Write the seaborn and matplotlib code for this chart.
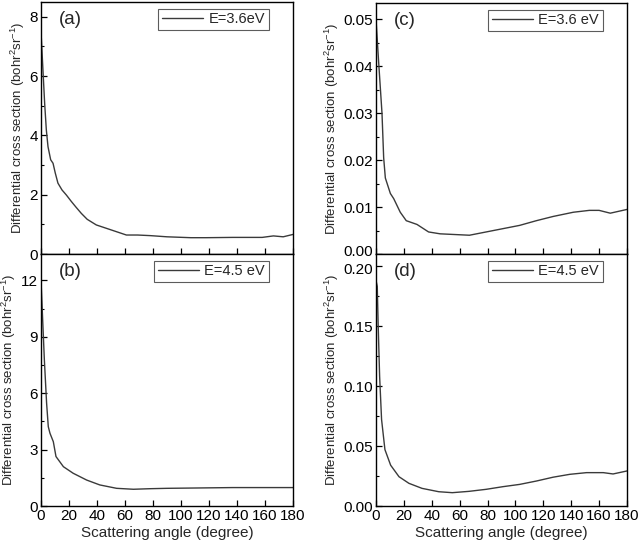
import numpy as np
import pandas as pd
import matplotlib
matplotlib.use("Agg")
import matplotlib.pyplot as plt
import matplotlib.transforms as mtransforms
from matplotlib.ticker import MultipleLocator, FormatStrFormatter
import seaborn as sns

# ---- data ----
angle_a = [0, 1.4, 2.6, 3.8, 5.0, 6.9, 8.6, 10.2, 12.1, 15, 18.1, 21.7, 25, 28.8, 33, 39.5, 49, 61, 69, 78, 90, 107,
           118, 137, 158, 166, 173, 180]
dcs_a = [7.5, 6.2, 5.09, 4.19, 3.62, 3.18, 3.06, 2.73, 2.39, 2.16, 1.99, 1.77, 1.58, 1.37, 1.17, 0.98, 0.83, 0.64, 0.64,
         0.62, 0.58, 0.55, 0.55, 0.56, 0.56, 0.61, 0.58, 0.66]

angle_b = [0, 2.4, 4, 5.2, 6.4, 8.8, 10.7, 16, 23, 32.6, 42, 54, 66, 78, 90, 114, 137, 180]
dcs_b = [12.0, 7.77, 5.47, 4.22, 3.87, 3.42, 2.63, 2.09, 1.74, 1.38, 1.12, 0.94, 0.89, 0.92, 0.94, 0.96, 0.98, 0.98]

angle_c = [0, 1.9, 4.3, 5.5, 6.7, 10.3, 12.7, 17.4, 21.7, 29.4, 37.7, 46, 60, 67, 79, 91, 103, 115, 127, 141.5,
           153, 160, 168, 180]
dcs_c = [0.050, 0.0409, 0.030, 0.0205, 0.0162, 0.0129, 0.0118, 0.0089, 0.0071, 0.0063, 0.0047, 0.0043, 0.0041,
         0.0040, 0.0047, 0.0054, 0.0061, 0.0071, 0.0080, 0.0089, 0.0093, 0.0093, 0.0087, 0.0095]

angle_d = [0, 0.9, 1.6, 2.6, 4.0, 6.4, 10.5, 16.5, 23.6, 33, 45, 54.7, 66.6, 79, 91, 103, 115, 127, 139, 151,
           163, 170, 180]
dcs_d = [0.188, 0.183, 0.149, 0.108, 0.072, 0.047, 0.034, 0.0244, 0.0189, 0.0147, 0.0119, 0.0111, 0.0122,
         0.0139, 0.0161, 0.018, 0.0208, 0.024, 0.0264, 0.0278, 0.0278, 0.0267, 0.0292]

panel_labels = ["(a)", "(b)", "(c)", "(d)"]
legend_labels = ["E=3.6eV", "E=4.5 eV", "E=3.6 eV", "E=4.5 eV"]
x_ticks = [0, 20, 40, 60, 80, 100, 120, 140, 160, 180]

sns.set_theme(style="ticks")
plt.rcParams['font.family'] = ['Liberation Sans', 'DejaVu Sans']
plt.rcParams['mathtext.fontset'] = 'custom'
plt.rcParams['mathtext.rm'] = 'Liberation Sans'
plt.rcParams['mathtext.it'] = 'Liberation Sans:italic'

fig = plt.figure(figsize=(6.4, 5.43), dpi=100)
W, H = 640, 543
def ax_at(x0, x1, ytop, ybot):
    return fig.add_axes([x0 / W, (H - ybot) / H, (x1 - x0) / W, (ybot - ytop) / H])

ax_a = ax_at(41, 293, 2, 254)
ax_b = ax_at(41, 293, 254, 506)
ax_c = ax_at(376, 627, 3, 254)
ax_d = ax_at(376, 627, 254, 506)

sets = [
    (ax_a, angle_a, dcs_a, 8.5, 2, 1, "%d"),
    (ax_b, angle_b, dcs_b, 13.4, 3, 1.5, "%d"),
    (ax_c, angle_c, dcs_c, 0.0535, 0.01, 0.005, "%.2f"),
    (ax_d, angle_d, dcs_d, 0.21, 0.05, 0.025, "%.2f"),
]

line_color = "#3a3a3a"
for i, (ax, xs, ys, ymax, major, minor, fmt) in enumerate(sets):
    df = pd.DataFrame({"angle": xs, "dcs": ys})
    sns.lineplot(data=df, x="angle", y="dcs", ax=ax, color=line_color, linewidth=1.0,
                 label=legend_labels[i])
    ax.set_xlim(0, 180)
    ax.set_ylim(0, ymax)
    ax.set_xticks(x_ticks)
    ax.yaxis.set_major_locator(MultipleLocator(major))
    ax.yaxis.set_minor_locator(MultipleLocator(minor))
    ax.yaxis.set_major_formatter(FormatStrFormatter(fmt))
    ax.tick_params(axis="both", which="both", direction="in", colors="black", labelsize=11, pad=2)
    ax.tick_params(axis="both", which="major", length=4, width=0.9)
    ax.tick_params(axis="y", which="minor", length=2.5, width=0.8)
    for s in ax.spines.values():
        s.set_color("black")
        s.set_linewidth(1.0)
    ax.set_ylabel("Differential cross section (bohr$^2$sr$^{-1}$)", fontsize=9.5, labelpad=2)
    if i in (0, 2):
        ax.set_xlabel("")
        ax.tick_params(axis="x", labelbottom=False)
    else:
        ax.set_xlabel("Scattering angle (degree)", fontsize=11, labelpad=2)
    ax.text(0.07, 0.965, panel_labels[i], transform=ax.transAxes, fontsize=13.5, va="top", ha="left")
    leg = ax.legend(loc="upper right", bbox_to_anchor=(0.915, 0.985), frameon=True, fancybox=False,
                    fontsize=10.5, handlelength=2.8, handletextpad=0.4, borderpad=0.25, borderaxespad=0.2)
    leg.get_frame().set_edgecolor("#333333")
    leg.get_frame().set_linewidth(0.8)

# nudge the touching "0.00" (c) and "0.20" (d) labels apart slightly, as in the reference
fig.canvas.draw()
up = mtransforms.ScaledTranslation(0, 2.5 / 72, fig.dpi_scale_trans)
down = mtransforms.ScaledTranslation(0, -1.5 / 72, fig.dpi_scale_trans)
for tick in ax_c.yaxis.get_major_ticks():
    if abs(tick.get_loc()) < 1e-9:
        tick.label1.set_transform(tick.label1.get_transform() + up)
for tick in ax_d.yaxis.get_major_ticks():
    if abs(tick.get_loc() - 0.20) < 1e-9:
        tick.label1.set_transform(tick.label1.get_transform() + down)

fig.savefig("out.png", dpi=100)
